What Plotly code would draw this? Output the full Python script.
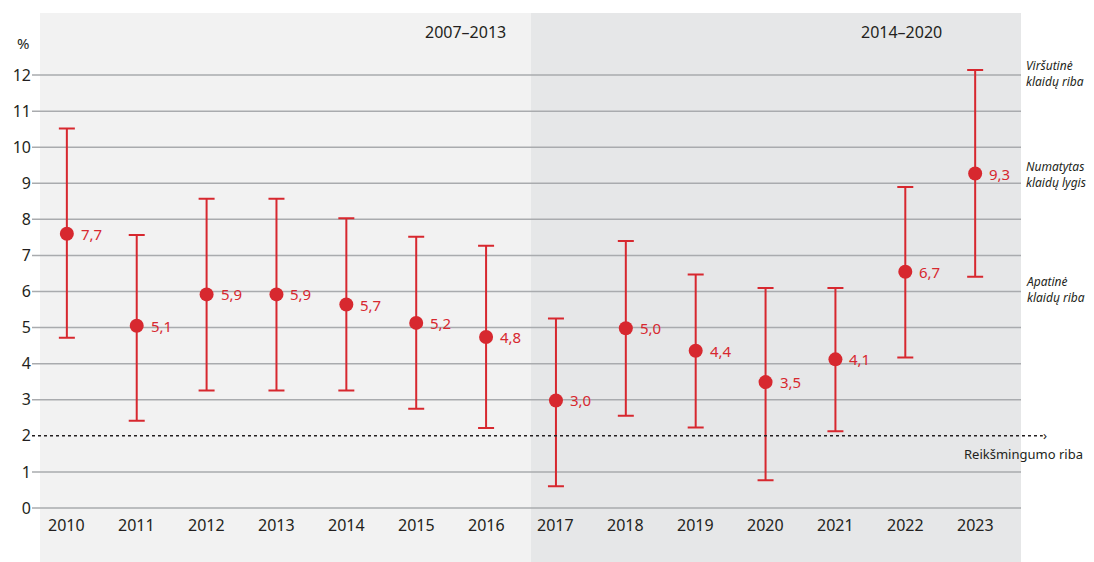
import plotly.graph_objects as go

years = [2010, 2011, 2012, 2013, 2014, 2015, 2016, 2017, 2018, 2019, 2020, 2021, 2022, 2023]
point = [7.6, 5.05, 5.92, 5.92, 5.64, 5.13, 4.74, 2.98, 4.98, 4.36, 3.49, 4.12, 6.55, 9.27]
labels = ["7,7", "5,1", "5,9", "5,9", "5,7", "5,2", "4,8", "3,0", "5,0", "4,4", "3,5", "4,1", "6,7", "9,3"]
upper = [10.52, 7.57, 8.57, 8.57, 8.03, 7.52, 7.27, 5.25, 7.4, 6.47, 6.1, 6.1, 8.9, 12.14]
lower = [4.72, 2.42, 3.26, 3.26, 3.26, 2.75, 2.22, 0.6, 2.56, 2.23, 0.77, 2.13, 4.17, 6.41]
yticks = list(range(0, 13))
threshold = 2
periods = ["2007–2013", "2014–2020"]
period_label_x = [2015.7, 2021.95]
right_notes = ["<i>Viršutinė<br>klaidų riba</i>", "<i>Numatytas<br>klaidų lygis</i>", "<i>Apatinė<br>klaidų riba</i>"]
right_note_y = [12.05, 9.25, 6.05]
threshold_label = "Reikšmingumo riba"

RED = "#d7282f"
INK = "#231f20"
GRID = "#a9abae"
FONT = "Noto Sans"

fig = go.Figure()

# background panels
fig.add_shape(type="rect", xref="x", yref="paper", x0=2009.615, x1=2016.643, y0=0, y1=1,
              fillcolor="#f2f2f2", line_width=0, layer="below")
fig.add_shape(type="rect", xref="x", yref="paper", x0=2016.643, x1=2023.656, y0=0, y1=1,
              fillcolor="#e6e7e8", line_width=0, layer="below")

# gridlines (all except threshold)
for t in yticks:
    if t == threshold:
        continue
    fig.add_shape(type="line", xref="paper", yref="y", x0=0, x1=1, y0=t, y1=t,
                  line=dict(color=GRID, width=1.5), layer="below")

# threshold dotted line
fig.add_shape(type="line", xref="paper", yref="y", x0=0, x1=1.022, y0=threshold, y1=threshold,
              line=dict(color=INK, width=1.5, dash="dot"), layer="above")
fig.add_annotation(x=1.022, xref="paper", y=threshold, yref="y", text="›", showarrow=False,
                   xanchor="left", yanchor="middle", font=dict(family=FONT, size=13, color=INK),
                   xshift=-2, yshift=1)
fig.add_annotation(x=1.0645, xref="paper", y=threshold, yref="y", text=threshold_label, showarrow=False,
                   xanchor="right", yanchor="middle", yshift=-18,
                   font=dict(family=FONT, size=13, color=INK))

plus = [u - p for u, p in zip(upper, point)]
minus = [p - l for p, l in zip(point, lower)]

fig.add_trace(go.Scatter(
    x=years, y=point, mode="markers",
    marker=dict(color=RED, size=14),
    error_y=dict(type="data", symmetric=False, array=plus, arrayminus=minus,
                 color=RED, thickness=2, width=8),
    hoverinfo="skip", showlegend=False,
))

for x, y, s in zip(years, point, labels):
    fig.add_annotation(x=x, y=y, text=s, showarrow=False, xanchor="left", yanchor="middle",
                       xshift=12, font=dict(family=FONT, size=15, color=RED))

# x labels
for x in years:
    fig.add_annotation(x=x, y=-0.47, text=str(x), showarrow=False, xanchor="center", yanchor="middle",
                       font=dict(family=FONT, size=16, color=INK))

# period labels
for x, s in zip(period_label_x, periods):
    fig.add_annotation(x=x, y=13.2, text=s, showarrow=False, xanchor="center", yanchor="middle",
                       font=dict(family=FONT, size=16, color=INK))

# percent
fig.add_annotation(x=-0.009, xref="paper", y=12.9, text="%", showarrow=False, xanchor="center",
                   yanchor="middle", font=dict(family=FONT, size=15, color=INK))

for s, y in zip(right_notes, right_note_y):
    fig.add_annotation(x=1.003, xref="paper", y=y, text=s, showarrow=False, xanchor="left",
                       yanchor="middle", align="left",
                       font=dict(family=FONT, size=12, color=INK))

fig.update_layout(
    width=1094, height=562,
    margin=dict(l=20, r=81, t=5, b=8),
    paper_bgcolor="white", plot_bgcolor="white",
    showlegend=False,
    xaxis=dict(range=[2009.501, 2023.656], showgrid=False, zeroline=False, showticklabels=False,
               showline=False, fixedrange=True),
    yaxis=dict(range=[-1.497, 13.72], showgrid=False, zeroline=False, tickvals=yticks,
               ticktext=[str(t) for t in yticks], ticks="", showline=False,
               tickfont=dict(family=FONT, size=16, color=INK), fixedrange=True),
)

fig.write_html("out.html")
